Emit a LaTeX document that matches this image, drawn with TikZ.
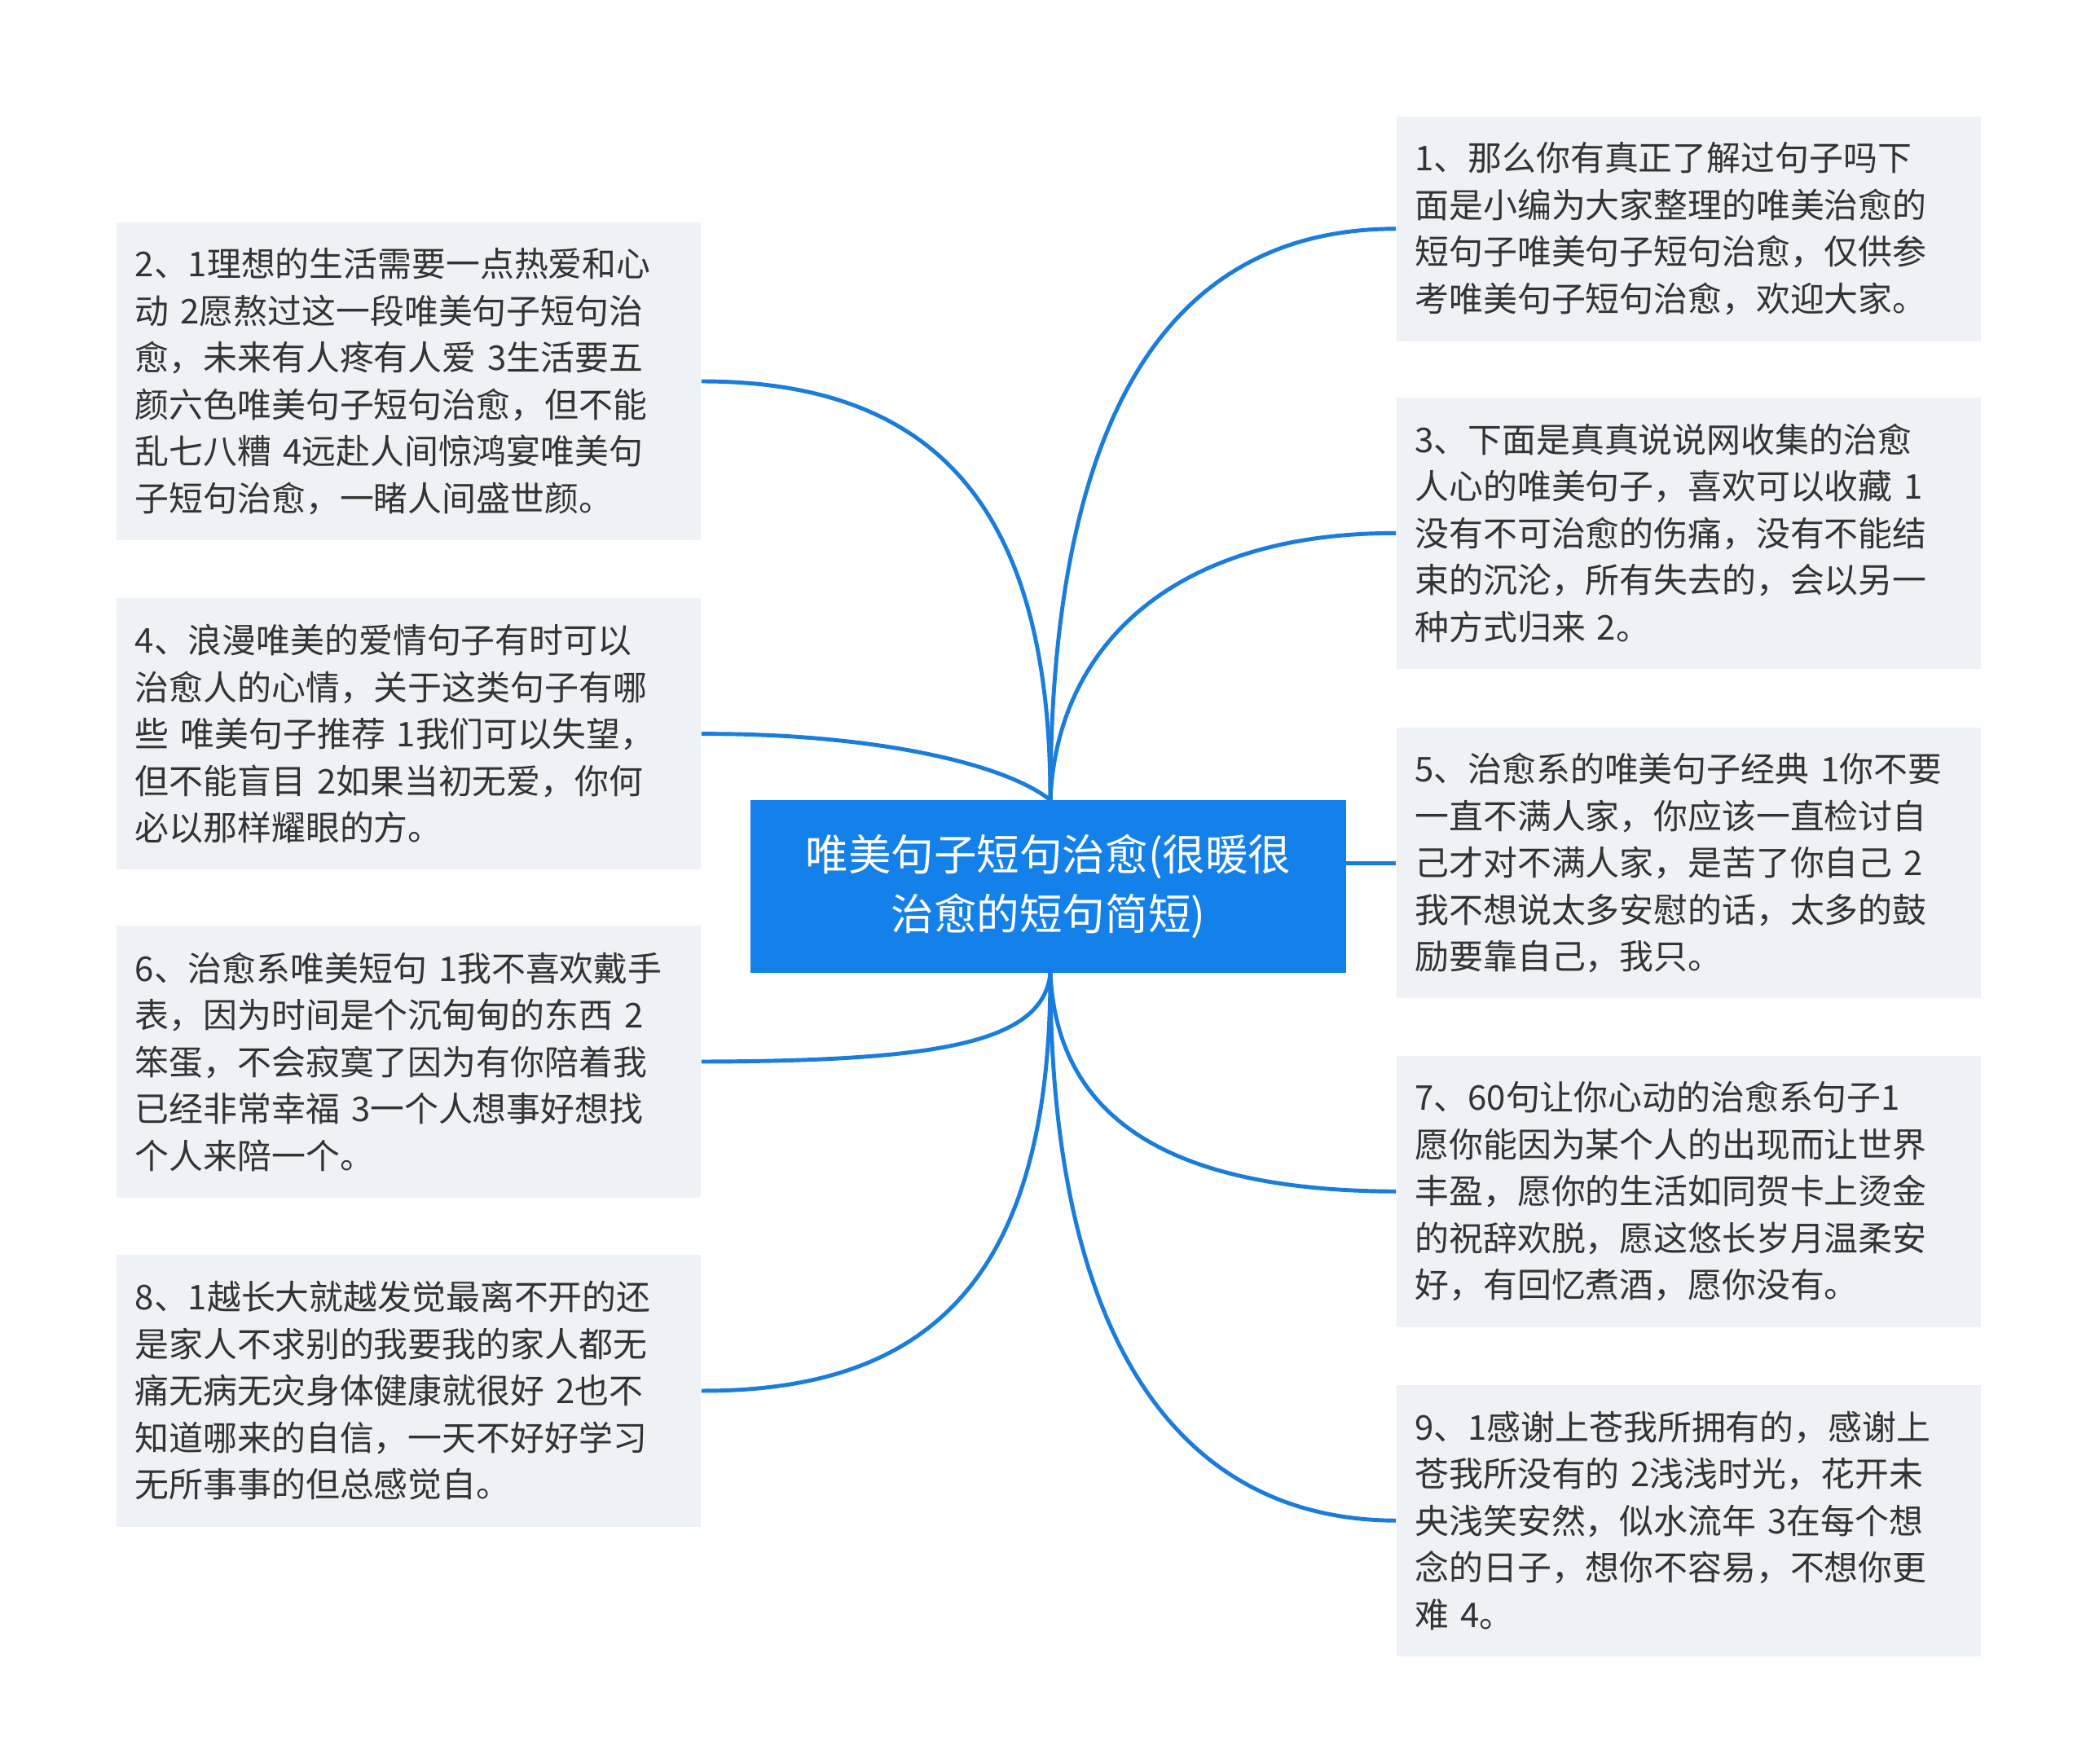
\documentclass[tikz,border=0pt]{standalone}
\usepackage{fontspec}
\setmainfont{Noto Sans CJK SC}
\definecolor{hub}{HTML}{1480EA}
\definecolor{line}{HTML}{1A7DDC}
\definecolor{leaf}{HTML}{EEF1F5}
\definecolor{txt}{HTML}{333333}
\tikzset{
 leafbox/.style={fill=leaf,draw=none,text=txt,align=left,inner xsep=14pt,inner ysep=0pt,
   minimum width=437pt,text width=409pt,font=\fontsize{25.5}{35}\selectfont},
 link/.style={draw=line,line width=3pt}
}
\begin{document}
\begin{tikzpicture}[x=1pt,y=-1pt]
\useasboundingbox[fill=white] (0,0) rectangle (1559,1318);
\node[fill=hub,text=white,minimum width=445pt,minimum height=129pt,align=center,font=\fontsize{32}{45}\selectfont] (c) at (783.5,662.5) {唯美句子短句治愈(很暖很\\治愈的短句简短)};
\coordinate (ct) at (785,598);
\coordinate (cb) at (785,727);
\coordinate (ce) at (1006,645);
\node[leafbox,minimum height=238pt] (b2) at (305.5,285) {2、1理想的生活需要一点热爱和心\\动 2愿熬过这一段唯美句子短句治\\愈，未来有人疼有人爱 3生活要五\\颜六色唯美句子短句治愈，但不能\\乱七八糟 4远赴人间惊鸿宴唯美句\\子短句治愈，一睹人间盛世颜。};
\node[leafbox,minimum height=203pt] (b4) at (305.5,548.5) {4、浪漫唯美的爱情句子有时可以\\治愈人的心情，关于这类句子有哪\\些 唯美句子推荐 1我们可以失望，\\但不能盲目 2如果当初无爱，你何\\必以那样耀眼的方。};
\node[leafbox,minimum height=203pt] (b6) at (305.5,793.5) {6、治愈系唯美短句 1我不喜欢戴手\\表，因为时间是个沉甸甸的东西 2\\笨蛋，不会寂寞了因为有你陪着我\\已经非常幸福 3一个人想事好想找\\个人来陪一个。};
\node[leafbox,minimum height=203pt] (b8) at (305.5,1039.5) {8、1越长大就越发觉最离不开的还\\是家人不求别的我要我的家人都无\\痛无病无灾身体健康就很好 2也不\\知道哪来的自信，一天不好好学习\\无所事事的但总感觉自。};
\node[leafbox,minimum height=168pt] (b1) at (1262,171) {1、那么你有真正了解过句子吗下\\面是小编为大家整理的唯美治愈的\\短句子唯美句子短句治愈，仅供参\\考唯美句子短句治愈，欢迎大家。};
\node[leafbox,minimum height=203pt] (b3) at (1262,398.5) {3、下面是真真说说网收集的治愈\\人心的唯美句子，喜欢可以收藏 1\\没有不可治愈的伤痛，没有不能结\\束的沉沦，所有失去的，会以另一\\种方式归来 2。};
\node[leafbox,minimum height=202pt] (b5) at (1262,645) {5、治愈系的唯美句子经典 1你不要\\一直不满人家，你应该一直检讨自\\己才对不满人家，是苦了你自己 2\\我不想说太多安慰的话，太多的鼓\\励要靠自己，我只。};
\node[leafbox,minimum height=203pt] (b7) at (1262,890.5) {7、60句让你心动的治愈系句子1\\愿你能因为某个人的出现而让世界\\丰盈，愿你的生活如同贺卡上烫金\\的祝辞欢脱，愿这悠长岁月温柔安\\好，有回忆煮酒，愿你没有。};
\node[leafbox,minimum height=203pt] (b9) at (1262,1136.5) {9、1感谢上苍我所拥有的，感谢上\\苍我所没有的 2浅浅时光，花开未\\央浅笑安然，似水流年 3在每个想\\念的日子，想你不容易，不想你更\\难 4。};
\draw[link] (ct) .. controls (785,380) and (700,285) .. (b2.east);
\draw[link] (ct) .. controls (750,570) and (650,548) .. (b4.east);
\draw[link] (cb) .. controls (780,780) and (700,793) .. (b6.east);
\draw[link] (cb) .. controls (785,950) and (700,1040) .. (b8.east);
\draw[link] (ct) .. controls (785,300) and (880,171) .. (b1.west);
\draw[link] (ct) .. controls (790,480) and (880,398) .. (b3.west);
\draw[link] (ce) -- (b5.west);
\draw[link] (cb) .. controls (790,840) and (880,890) .. (b7.west);
\draw[link] (cb) .. controls (785,1000) and (880,1136) .. (b9.west);
\end{tikzpicture}
\end{document}
